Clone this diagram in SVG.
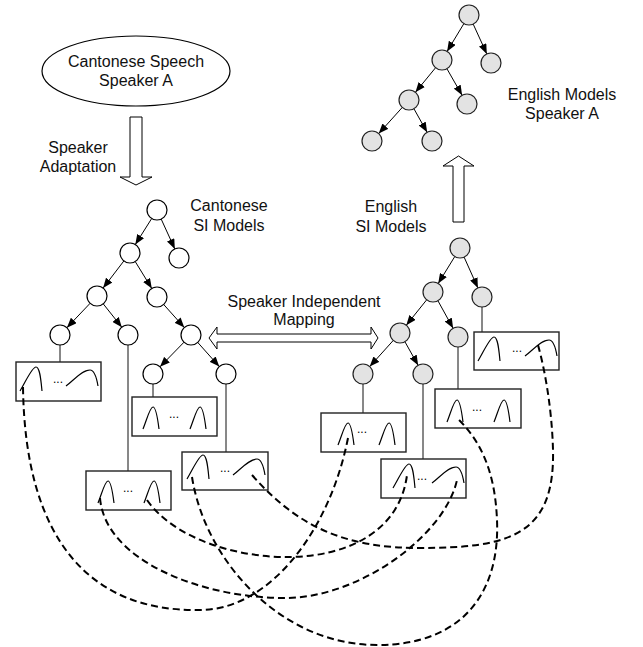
<svg xmlns="http://www.w3.org/2000/svg" width="643" height="647" viewBox="0 0 643 647">
<defs>
<marker id="ah" viewBox="0 0 10 8" refX="10" refY="4" markerWidth="10" markerHeight="8" markerUnits="userSpaceOnUse" orient="auto"><path d="M0,0 L10,4 L0,8 Z" fill="#000"/></marker>
<path id="pw" d="M0,0 C6,-10 12,-24 16,-24 C20,-24 21,-10 22,0"/>
<path id="pn" d="M0,0 C4,-10 7,-22 10,-22 C13,-22 15,-8 16,0"/>
<path id="wd" d="M0,0 C8,-6 16,-16 24,-16 C29,-16 31,-6 32,0"/>
</defs>
<style>
.t{font-family:"Liberation Sans",Arial,sans-serif;font-size:16px;fill:#111;text-anchor:middle}
.cw{fill:#fff;stroke:#000;stroke-width:1.2}
.cg{fill:#e3e3e3;stroke:#222;stroke-width:1.2}
.e{stroke:#000;stroke-width:1;fill:none;marker-end:url(#ah)}
.bx{fill:#fff;stroke:#222;stroke-width:1.4}
.cv use{fill:none;stroke:#000;stroke-width:1.2}
.dt{font-family:"Liberation Sans",Arial,sans-serif;font-size:12px;fill:#000}
.vl{stroke:#111;stroke-width:1}
.dash{fill:none;stroke:#000;stroke-width:2;stroke-dasharray:7 4}
.ha{fill:#fff;stroke:#000;stroke-width:1}
</style>
<rect width="643" height="647" fill="#fff"/>

<g id="speech">
<ellipse cx="136" cy="71" rx="94" ry="35" fill="#fff" stroke="#000" stroke-width="1.2"/>
<text class="t" x="136" y="66.5">Cantonese Speech</text>
<text class="t" x="136" y="86">Speaker A</text>
</g>

<g id="labels">
<text class="t" x="78" y="153">Speaker</text>
<text class="t" x="78" y="172">Adaptation</text>
<text class="t" x="229" y="211">Cantonese</text>
<text class="t" x="229" y="231">SI Models</text>
<text class="t" x="391" y="212">English</text>
<text class="t" x="391" y="232">SI Models</text>
<text class="t" x="562" y="99.5">English Models</text>
<text class="t" x="562" y="118.5">Speaker A</text>
<text class="t" x="304" y="307">Speaker Independent</text>
<text class="t" x="304" y="325">Mapping</text>
</g>

<g id="connectors">
<path class="ha" d="M130,117 L142,117 L142,177 L152,177 L136,185 L120,177 L130,177 Z"/>
<path class="ha" d="M453,222 L453,166 L443,166 L458.5,156 L474,166 L464,166 L464,222 Z"/>
<path class="ha" d="M209,338 L217,327 L217,334 L371,334 L371,327 L378,338 L371,349 L371,342 L217,342 L217,349 Z"/>
<!-- Cantonese tree edges -->
<line class="e" x1="151.7" y1="218.5" x2="135.3" y2="244.5"/>
<line class="e" x1="161.2" y1="219.1" x2="174.8" y2="248.9"/>
<line class="e" x1="123.9" y1="260.9" x2="103.1" y2="288.1"/>
<line class="e" x1="135.2" y1="261.5" x2="151.8" y2="288.5"/>
<line class="e" x1="90.1" y1="303.3" x2="66.9" y2="327.7"/>
<line class="e" x1="103.2" y1="303.8" x2="121.8" y2="327.2"/>
<line class="e" x1="163.7" y1="304.5" x2="184.3" y2="327.5"/>
<line class="e" x1="184" y1="342.2" x2="160" y2="366.8"/>
<line class="e" x1="197.7" y1="342.4" x2="219.3" y2="366.6"/>
<!-- English SI tree edges -->
<line class="e" x1="454.8" y1="256.5" x2="438.2" y2="283.5"/>
<line class="e" x1="464.1" y1="257.1" x2="477.9" y2="287.9"/>
<line class="e" x1="426.7" y1="299.8" x2="406.3" y2="325.2"/>
<line class="e" x1="437.9" y1="300.7" x2="453.1" y2="328.3"/>
<line class="e" x1="393.3" y1="340.4" x2="369.7" y2="366.6"/>
<line class="e" x1="404.9" y1="341.7" x2="418.1" y2="365.3"/>
<!-- English speaker A tree edges -->
<line class="e" x1="463.9" y1="23.6" x2="447.1" y2="51.4"/>
<line class="e" x1="473.2" y1="24.1" x2="486.8" y2="53.9"/>
<line class="e" x1="435.6" y1="67.7" x2="415.4" y2="92.3"/>
<line class="e" x1="446.9" y1="68.7" x2="462.1" y2="95.3"/>
<line class="e" x1="402.3" y1="107.4" x2="378.7" y2="133.6"/>
<line class="e" x1="413.9" y1="108.7" x2="427.1" y2="132.3"/>
<!-- leaf to box lines -->
<line class="vl" x1="60" y1="345" x2="60" y2="362"/>
<line class="vl" x1="153" y1="384" x2="153" y2="397"/>
<line class="vl" x1="226" y1="384" x2="226" y2="452"/>
<line class="vl" x1="128" y1="345" x2="128" y2="471"/>
<line class="vl" x1="482" y1="307" x2="482" y2="332"/>
<line class="vl" x1="458" y1="347" x2="458" y2="389"/>
<line class="vl" x1="363" y1="384" x2="363" y2="413"/>
<line class="vl" x1="423" y1="384" x2="423" y2="459"/>
</g>

<g id="c-nodes">
<circle id="c1" class="cw" cx="157" cy="210" r="10"/>
<circle id="c2" class="cw" cx="130" cy="253" r="10"/>
<circle id="c3" class="cw" cx="179" cy="258" r="10"/>
<circle id="c4" class="cw" cx="97" cy="296" r="10"/>
<circle id="c5" class="cw" cx="157" cy="297" r="10"/>
<circle id="c6" class="cw" cx="60" cy="335" r="10"/>
<circle id="c7" class="cw" cx="128" cy="335" r="10"/>
<circle id="c8" class="cw" cx="191" cy="335" r="10"/>
<circle id="c9" class="cw" cx="153" cy="374" r="10"/>
<circle id="c10" class="cw" cx="226" cy="374" r="10"/>
</g>

<g id="e-nodes">
<circle id="e1" class="cg" cx="460" cy="248" r="10"/>
<circle id="e2" class="cg" cx="433" cy="292" r="10"/>
<circle id="e3" class="cg" cx="482" cy="297" r="10"/>
<circle id="e4" class="cg" cx="400" cy="333" r="10"/>
<circle id="e5" class="cg" cx="458" cy="337" r="10"/>
<circle id="e6" class="cg" cx="363" cy="374" r="10"/>
<circle id="e7" class="cg" cx="423" cy="374" r="10"/>
</g>

<g id="a-nodes">
<circle id="a1" class="cg" cx="469" cy="15" r="10"/>
<circle id="a2" class="cg" cx="442" cy="60" r="10"/>
<circle id="a3" class="cg" cx="491" cy="63" r="10"/>
<circle id="a4" class="cg" cx="409" cy="100" r="10"/>
<circle id="a5" class="cg" cx="467" cy="104" r="10"/>
<circle id="a6" class="cg" cx="372" cy="141" r="10"/>
<circle id="a7" class="cg" cx="432" cy="141" r="10"/>
</g>

<g id="boxA" class="cv">
<rect class="bx" x="16" y="362" width="85" height="39"/>
<use href="#pw" x="20" y="391"/>
<text class="dt" x="53" y="383">...</text>
<use href="#wd" x="66" y="386"/>
</g>
<g id="boxB" class="cv">
<rect class="bx" x="132" y="397" width="85" height="39"/>
<use href="#pn" x="143" y="429"/>
<text class="dt" x="169" y="418">...</text>
<use href="#pn" x="190" y="429"/>
</g>
<g id="boxC" class="cv">
<rect class="bx" x="182" y="452" width="86" height="38"/>
<use href="#pw" x="187" y="479"/>
<text class="dt" x="220" y="472">...</text>
<use href="#wd" x="233" y="475"/>
</g>
<g id="boxD" class="cv">
<rect class="bx" x="86" y="471" width="85" height="39"/>
<use href="#pn" x="98" y="503"/>
<text class="dt" x="123" y="492">...</text>
<use href="#pn" x="144" y="503"/>
</g>
<g id="boxE" class="cv">
<rect class="bx" x="474" y="332" width="85" height="38"/>
<use href="#pw" x="478" y="361"/>
<text class="dt" x="512" y="352">...</text>
<use href="#wd" x="525" y="356"/>
</g>
<g id="boxF" class="cv">
<rect class="bx" x="435" y="389" width="86" height="39"/>
<use href="#pn" x="447" y="422"/>
<text class="dt" x="472" y="411">...</text>
<use href="#pn" x="494" y="422"/>
</g>
<g id="boxG" class="cv">
<rect class="bx" x="321" y="413" width="85" height="39"/>
<use href="#pn" x="338" y="445"/>
<text class="dt" x="357" y="433">...</text>
<use href="#pn" x="379" y="445"/>
</g>
<g id="boxH" class="cv">
<rect class="bx" x="381" y="459" width="85" height="39"/>
<use href="#pw" x="393" y="488"/>
<text class="dt" x="417" y="480">...</text>
<use href="#wd" x="432" y="483"/>
</g>

<g id="mappings">
<path class="dash" d="M23,387 C25,540 90,612 200,610 C270,610 330,530 348,438"/>
<path class="dash" d="M100,498 C105,560 200,598 285,598 C360,598 445,535 457,480"/>
<path class="dash" d="M147,500 C175,540 240,558 290,557 C350,556 400,530 407,475"/>
<path class="dash" d="M192,477 C205,560 280,645 377,645 C465,645 500,590 497,520 C495,470 480,440 457,418"/>
<path class="dash" d="M252,475 C300,530 350,548 420,548 C510,548 555,535 553,450 C552,410 545,370 538,345"/>
</g>
</svg>
